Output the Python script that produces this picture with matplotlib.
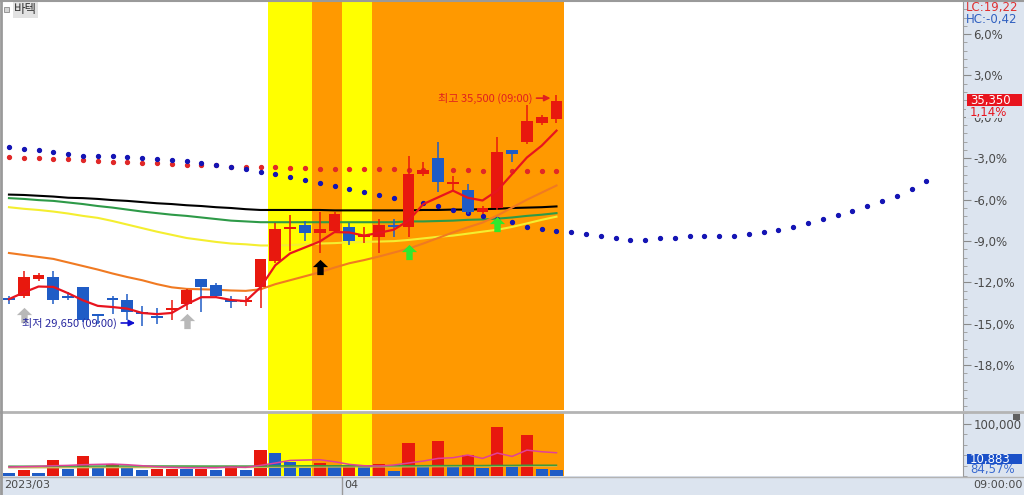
import numpy as np
import matplotlib
matplotlib.use("Agg")
import matplotlib.pyplot as plt
import matplotlib.transforms as mtransforms
from matplotlib.path import Path
from matplotlib.patches import Rectangle
from matplotlib.lines import Line2D

plt.rcParams['font.family'] = ['Noto Sans CJK KR', 'DejaVu Sans']

stock_name = "바텍"
base_price = 34950
first_month = "2023/03"
second_month = "04"
month_start_idx = 23
clock_label = "09:00:00"
hl_time = "09:00"

# daily candles
opens = [30350, 30400, 30850, 30900, 30400, 30650, 29950, 30350, 30300, 30000,
         29900, 30050, 30200, 30850, 30700, 30300, 30250, 30650, 31300, 32100,
         32200, 32000, 32050, 32150, 31900, 31900, 32200, 32150, 33500, 33900,
         33250, 33100, 32550, 32650, 34100, 34300, 34800, 34900]
highs = [30400, 31050, 31000, 31050, 30500, 30650, 29950, 30400, 30450, 30150,
         30100, 30300, 30600, 30850, 30750, 30400, 30400, 31350, 32250, 32450,
         32300, 32550, 32550, 32250, 32150, 32350, 32350, 33950, 33800, 34300,
         33450, 33250, 32700, 34450, 34100, 35250, 35000, 35500]
lows = [30200, 30350, 30800, 30200, 30300, 29750, 29700, 29950, 29800, 29650,
        29700, 29800, 30050, 30000, 30350, 30100, 30150, 30100, 31250, 31550,
        31800, 31500, 32000, 31700, 31750, 31500, 31900, 31900, 33450, 33050,
        33100, 32500, 32500, 32600, 33800, 34250, 34750, 34800]
closes = [30300, 30900, 30950, 30300, 30350, 29800, 29900, 30300, 30000, 29950,
          29850, 30100, 30550, 30650, 30400, 30250, 30300, 31350, 32100, 32150,
          32000, 32100, 32500, 31800, 31950, 32200, 32150, 33500, 33600, 33300,
          33300, 32550, 32650, 34050, 34000, 34850, 34950, 35350]
volumes = [6300, 11400, 5100, 30400, 12700, 38000, 15800, 22100, 15800, 11400,
           13900, 14200, 12700, 12900, 10800, 19000, 11400, 50000, 44300, 26600,
           15800, 25300, 19000, 19500, 18500, 23400, 9500, 62000, 20200, 66400,
           17100, 39900, 14600, 93600, 19000, 77800, 12869, 10883]

# 0 = none, 1 = yellow zone, 2 = orange zone
signal_zone = [0] * 18 + [1, 1, 1, 2, 2, 1, 1] + [2] * 13

# moving averages
ma5 = [30330, 30500, 30650, 30640, 30480, 30300, 30160, 30130, 30090, 29980,
       29950, 29980, 30200, 30380, 30380, 30310, 30280, 30630, 31190, 31490,
       31640, 31790, 32030, 32020, 31940, 32010, 32090, 32320, 32740, 32910,
       33080, 32900, 32830, 33080, 33500, 33920, 34220, 34600]
ma20 = [31500, 31450, 31400, 31350, 31260, 31170, 31080, 30980, 30890, 30810,
        30710, 30630, 30590, 30580, 30570, 30550, 30540, 30580, 30710, 30810,
        30910, 31010, 31130, 31240, 31320, 31410, 31510, 31610, 31740, 31880,
        32020, 32150, 32270, 32450, 32650, 32850, 33030, 33210]
ma60 = [32660, 32620, 32590, 32550, 32500, 32440, 32390, 32310, 32220, 32130,
        32040, 31960, 31880, 31830, 31780, 31740, 31720, 31690, 31690, 31700,
        31720, 31740, 31750, 31770, 31780, 31790, 31800, 31830, 31870, 31910,
        31940, 31990, 32040, 32090, 32160, 32250, 32340, 32420]
ma120 = [32890, 32870, 32840, 32820, 32780, 32740, 32690, 32650, 32600, 32550,
         32510, 32470, 32440, 32400, 32360, 32320, 32300, 32280, 32280, 32280,
         32280, 32280, 32280, 32280, 32280, 32280, 32280, 32300, 32300, 32310,
         32320, 32340, 32350, 32370, 32400, 32440, 32470, 32510]
ma240 = [32980, 32970, 32950, 32930, 32900, 32890, 32870, 32840, 32820, 32790,
         32760, 32740, 32710, 32690, 32660, 32640, 32610, 32590, 32590, 32590,
         32590, 32590, 32580, 32580, 32580, 32580, 32580, 32580, 32590, 32590,
         32600, 32600, 32610, 32620, 32640, 32650, 32660, 32680]

# dotted series (blue one runs 25 sessions ahead)
red_dots = [33920, 33910, 33910, 33880, 33880, 33860, 33840, 33810, 33810, 33790,
            33770, 33750, 33740, 33730, 33720, 33690, 33690, 33670, 33670, 33650,
            33650, 33640, 33640, 33630, 33630, 33620, 33620, 33610, 33610, 33600,
            33600, 33600, 33590, 33590, 33590, 33580, 33580, 33580]
blue_dots = [34190, 34140, 34120, 34050, 34010, 33960, 33960, 33960, 33940, 33910,
             33880, 33860, 33820, 33770, 33730, 33690, 33630, 33540, 33500, 33430,
             33350, 33270, 33210, 33110, 33040, 32970, 32900, 32830, 32760, 32680,
             32600, 32520, 32430, 32360, 32280, 32170, 32100, 32050,
             32020, 31970, 31920, 31870, 31840, 31840, 31870, 31890, 31920, 31920,
             31940, 31940, 31970, 32020, 32070, 32170, 32270, 32370, 32470, 32570,
             32700, 32830, 32950, 33110, 33320]

# volume moving averages
vol_ma_pink = [17100, 17700, 18350, 19600, 20250, 21500, 22140, 22780, 21500, 19600,
               17700, 16450, 15800, 15800, 15800, 17100, 16450, 20250, 24700, 29700,
               30400, 31000, 27200, 22140, 19600, 18980, 20900, 24700, 28500, 33500,
               34800, 39900, 33500, 43700, 37300, 49300, 46200, 44300]
vol_ma_green = [18600, 18600, 18700, 18700, 18800, 18800, 18900, 18900, 19000, 19000,
                19000, 19000, 19000, 18900, 18900, 18900, 18900, 19000, 19200, 19300,
                19400, 19500, 19500, 19500, 19500, 19500, 19500, 19600, 19600, 19800,
                19800, 19900, 19900, 20200, 20200, 20500, 20500, 20500]
vol_ma_olive = [15800, 15800, 15900, 15900, 16000, 16000, 16100, 16100, 16200, 16200,
                16300, 16300, 16300, 16300, 16400, 16400, 16400, 16600, 16800, 17000,
                17100, 17200, 17300, 17400, 17400, 17500, 17500, 17700, 17800, 18000,
                18100, 18300, 18300, 18600, 18700, 19000, 19100, 19100]

# signal arrows: (index, price level)
gray_arrow_idx = [1, 12]
gray_arrow_lvl = [29920, 29770]
black_arrow_idx = [21]
black_arrow_lvl = [31140]
green_arrow_idx = [27, 33]
green_arrow_lvl = [31520, 32240]

RED = '#e8180e'
BLUE = '#1f5cc6'
AXIS_BG = '#dce4ef'
TXT = '#4a4a4a'

W, H = 1024, 495
fig = plt.figure(figsize=(W / 100, H / 100), dpi=100, facecolor='white')


def fx(px):
    return px / W


def fy(py):
    return 1 - py / H


# background pieces
fig.add_artist(Rectangle((fx(963), 0), fx(61), 1, transform=fig.transFigure,
                         facecolor=AXIS_BG, edgecolor='none', zorder=0))
fig.add_artist(Rectangle((0, 0), 1, fy(476), transform=fig.transFigure,
                         facecolor=AXIS_BG, edgecolor='none', zorder=0))

ax = fig.add_axes([fx(2), fy(410), fx(961), (410 - 1) / H])
axv = fig.add_axes([fx(2), fy(476), fx(961), 63 / H])
for a in (ax, axv):
    a.set_facecolor('white')
    for s in ('top', 'left', 'bottom'):
        a.spines[s].set_visible(False)
    a.spines['right'].set_color('#9a9a9a')
    a.set_xticks([])
    a.yaxis.tick_right()

x = np.arange(len(closes))
xmin, xmax = -0.47, 64.47
o, hi, lo, c = (np.array(v) for v in (opens, highs, lows, closes))

# signal zones
zone_colors = {1: '#ffff00', 2: '#ff9900'}
for i, z in enumerate(signal_zone):
    if z:
        for a in (ax, axv):
            a.axvspan(i - 0.5, i + 0.5, color=zone_colors[z], lw=0, zorder=0)

# moving averages
ax.plot(x, ma240, color='#000000', lw=1.5, zorder=2)
ax.plot(x, ma120, color='#2e9a48', lw=1.5, zorder=2)
ax.plot(x, ma60, color='#f4ee30', lw=1.5, zorder=2)
ax.plot(x, ma20, color='#f07a22', lw=1.5, zorder=2)
ax.plot(x, ma5, color='#e8141e', lw=1.6, zorder=6)

# dots
ax.plot(np.arange(len(red_dots)), red_dots, ls='none', marker='o', ms=2.8,
        color='#e02828', zorder=3)
ax.plot(np.arange(len(blue_dots)), blue_dots, ls='none', marker='o', ms=2.8,
        color='#1414b4', zorder=3)

# candles
cc = np.where(c >= o, RED, BLUE)
ax.vlines(x, lo, hi, colors=cc, lw=1.1, zorder=4)
ax.bar(x, np.abs(c - o), bottom=np.minimum(o, c), width=0.8, color=cc,
       lw=0, zorder=5)

# signal arrows
arrow_marker = Path([(0, 1), (1, 0.05), (0.42, 0.05), (0.42, -1), (-0.42, -1),
                     (-0.42, 0.05), (-1, 0.05), (0, 1)],
                    [Path.MOVETO] + [Path.LINETO] * 6 + [Path.CLOSEPOLY])
ax.scatter(gray_arrow_idx, gray_arrow_lvl, marker=arrow_marker, s=120,
           color='#b8b8b8', lw=0, zorder=7)
ax.scatter(black_arrow_idx, black_arrow_lvl, marker=arrow_marker, s=120,
           color='#000000', lw=0, zorder=7)
ax.scatter(green_arrow_idx, green_arrow_lvl, marker=arrow_marker, s=120,
           color='#2ee82e', lw=0, zorder=7)

# high / low notes
low_i = int(np.argmin(lo))
high_i = int(np.argmax(hi))
low_v = lows[low_i]
high_v = highs[high_i]


def off(dx, dy):
    return mtransforms.offset_copy(ax.transData, fig=fig, x=dx, y=dy, units='dots')


ax.text(low_i, low_v, f"최저 {low_v:,} ({hl_time})", transform=off(-25, 3),
        ha='right', va='center', fontsize=8, color='#2a2aa0', zorder=8)
ax.annotate('', xy=(low_i, low_v), xycoords=off(-7, 3),
            xytext=(low_i, low_v), textcoords=off(-21, 3),
            arrowprops=dict(arrowstyle='-|>', color='#1010d0', lw=1.2,
                            mutation_scale=9, shrinkA=0, shrinkB=0))
ax.text(high_i, high_v, f"최고 {high_v:,} ({hl_time})", transform=off(-24, -3),
        ha='right', va='center', fontsize=8, color='#e02020', zorder=8)
ax.annotate('', xy=(high_i, high_v), xycoords=off(-6, -3),
            xytext=(high_i, high_v), textcoords=off(-20, -3),
            arrowprops=dict(arrowstyle='-|>', color='#e02020', lw=1.2,
                            mutation_scale=9, shrinkA=0, shrinkB=0))

# price axis
ax.set_xlim(xmin, xmax)
ax.set_ylim(27521, 37856)
pct_major = np.arange(-18, 7, 3)
ax.set_yticks(base_price * (1 + pct_major / 100))
ax.set_yticklabels([f"{p:.1f}%".replace('.', ',') for p in pct_major])
ax.set_yticks(base_price * (1 + np.arange(-21, 9, 0.6) / 100), minor=True)
tick_font = ['Liberation Sans Narrow', 'DejaVu Sans']
for lab in ax.get_yticklabels():
    lab.set_family(tick_font)
ax.tick_params(axis='y', which='major', length=6, width=0.8, color='#8a8a8a',
               labelcolor=TXT, labelsize=8.5, pad=1.5)
ax.tick_params(axis='y', which='minor', length=3, width=0.6, color='#9a9a9a')

# volume panel
vol = np.array(volumes)
vcol = np.where(np.r_[False, np.diff(vol) > 0], RED, BLUE)
axv.bar(x, vol, width=0.82, color=vcol, lw=0, zorder=3)
axv.plot(x, vol_ma_olive, color='#c4b85a', lw=1.1, zorder=4)
axv.plot(x, vol_ma_green, color='#3c9a3c', lw=1.1, zorder=4)
axv.plot(x, vol_ma_pink, color='#e0409a', lw=1.1, zorder=5)
axv.set_xlim(xmin, xmax)
axv.set_ylim(0, 119600)
axv.set_yticks([100000])
axv.set_yticklabels(["100,000"])
axv.set_yticks(np.arange(0, 120001, 20000), minor=True)
for lab in axv.get_yticklabels():
    lab.set_family(tick_font)
axv.tick_params(axis='y', which='major', length=6, width=0.8, color='#8a8a8a',
                labelcolor=TXT, labelsize=8.5, pad=1.5)
axv.tick_params(axis='y', which='minor', length=3, width=0.6, color='#9a9a9a')

# separators and borders
for py, lw_ in ((411.5, 2.0), (476.5, 1.0)):
    fig.add_artist(Line2D([0, 1], [fy(py), fy(py)], transform=fig.transFigure,
                          color='#b4b4b4', lw=lw_))
fig.add_artist(Line2D([0, 1], [fy(0.5), fy(0.5)], transform=fig.transFigure,
                      color='#9a9a9a', lw=1.5))
fig.add_artist(Line2D([fx(0.8), fx(0.8)], [0, 1], transform=fig.transFigure,
                      color='#9a9a9a', lw=2))

# date axis
month_x = axv.transData.transform((month_start_idx - 0.5, 0))[0] / W
fig.add_artist(Line2D([month_x, month_x], [0, fy(477)], transform=fig.transFigure,
                      color='#9a9a9a', lw=1))
fig.text(fx(4), fy(485), first_month, fontsize=8, color=TXT, va='center',
         family=tick_font)
fig.text(month_x + fx(2), fy(485), second_month, fontsize=8, color=TXT,
         va='center', family=tick_font)
fig.text(fx(973), fy(485), clock_label, fontsize=8, color=TXT, va='center',
         family=tick_font)

# right side info
last = closes[-1]
lc = (last / min(lows) - 1) * 100
hc = (last / max(highs) - 1) * 100
chg = (last / base_price - 1) * 100
fig.text(fx(966), fy(8), f"LC:{lc:.2f}".replace('.', ','), fontsize=8.5,
         color='#e03030', va='center', family=tick_font)
fig.text(fx(966), fy(19), f"HC:{hc:.2f}".replace('.', ','), fontsize=8.5,
         color='#3060c0', va='center', family=tick_font)

last_y = fy(1) - (37856 - last) / (37856 - 27521) * (409 / H)
fig.add_artist(Rectangle((fx(967), last_y - 6 / H), fx(55), 12 / H,
                         transform=fig.transFigure, facecolor='#e8141e',
                         edgecolor='none', zorder=5))
fig.text(fx(970), last_y, f"{last:,}", fontsize=8.5, color='white', va='center',
         family=tick_font, zorder=6)
# change label sits over the 0,0% tick, hiding its upper part as in the terminal
fig.add_artist(Rectangle((fx(966), last_y - 18 / H), fx(45), 12 / H,
                         transform=fig.transFigure, facecolor=AXIS_BG,
                         edgecolor='none', zorder=5))
fig.text(fx(970), last_y - 12 / H, f"{chg:.2f}%".replace('.', ','), fontsize=8.5,
         color='#e8141e', va='center', family=tick_font, zorder=6)

vol_last = volumes[-1]
vol_ratio = vol_last / volumes[-2] * 100
fig.add_artist(Rectangle((fx(967), fy(464)), fx(55), 10 / H,
                         transform=fig.transFigure, facecolor='#1a50c8',
                         edgecolor='none', zorder=5))
fig.text(fx(970), fy(459), f"{vol_last:,}", fontsize=8.5, color='white',
         va='center', family=tick_font, zorder=6)
fig.text(fx(970), fy(470), f"{vol_ratio:.2f}%".replace('.', ','), fontsize=8.5,
         color='#3a6ad0', va='center', family=tick_font, zorder=6)
fig.add_artist(Rectangle((fx(1013), fy(420)), fx(7), 6 / H, transform=fig.transFigure,
                         facecolor='#606060', edgecolor='none', zorder=5))

# stock name tag
fig.add_artist(Rectangle((fx(4), fy(12)), fx(5), 5 / H, transform=fig.transFigure,
                         facecolor='#d4d4d4', edgecolor='#8a8a8a', lw=0.6))
fig.text(fx(14), fy(10), stock_name, fontsize=9, color='#333333', va='center',
         bbox=dict(facecolor='#e2e2e2', edgecolor='none', pad=1.0))

fig.savefig('out.png', dpi=100)
